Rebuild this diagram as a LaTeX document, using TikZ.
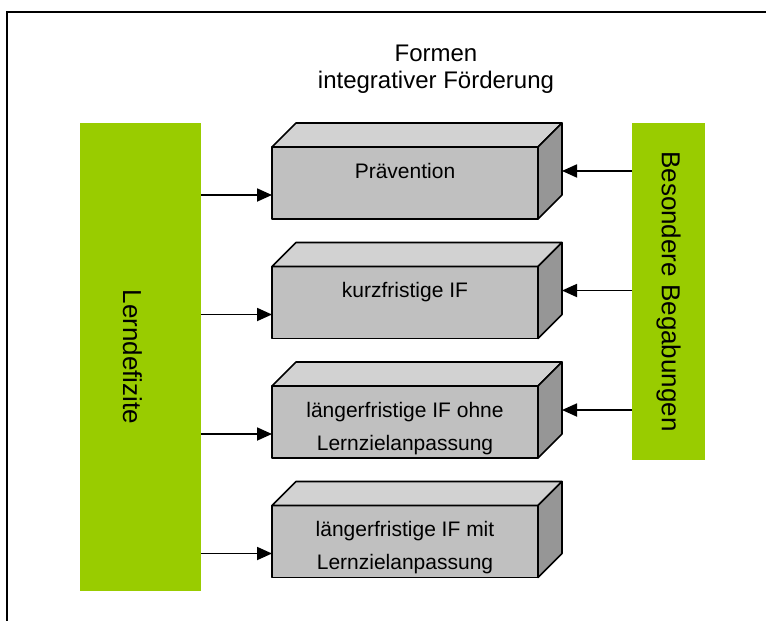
\documentclass[tikz,border=0pt]{standalone}
\usepackage{fontspec}
\setmainfont{Liberation Sans}
\usepackage{graphicx}
\usepackage{xcolor}
\usepackage{tikz}
\usetikzlibrary{calc,arrows.meta}

\definecolor{gruen}{RGB}{153,204,0}
\definecolor{vorne}{RGB}{192,192,192}
\definecolor{oben}{RGB}{210,210,210}
\definecolor{seite}{RGB}{150,150,150}

% text of a box, sitting at the top of the front face
\newcommand{\kastentext}[1]{\parbox[c][56pt][t]{250pt}{\centering\strut #1}}

\begin{document}
\begin{tikzpicture}[x=1pt,y=-1pt,
        kasten/.style={draw, line width=1.6pt, line join=round, fill=vorne, anchor=north west,
            outer sep=0pt, minimum width=266pt, minimum height=72pt, inner xsep=8pt, inner ysep=8pt,
            font=\fontsize{21}{33}\selectfont},
        deckel/.style={draw, line width=1.6pt, line join=round, fill=oben},
        flanke/.style={draw, line width=1.6pt, line join=round, fill=seite},
        balken/.style={fill=gruen, inner sep=0pt, outer sep=0pt, font=\fontsize{26}{30}\selectfont},
        pfeil/.style={line width=1.8pt, -{Triangle[length=15pt,width=13pt]}}]
        \useasboundingbox (0,0) rectangle (766,621);
        \def\tief{24} % depth of the boxes
        \def\ab{12} % arrow offset from the middle of a box

        % frame
        \draw[line width=1.8pt] (766,12) -- (7,12) -- (7,621);

        % title
        \node[anchor=north, align=center, inner sep=0pt, font=\fontsize{24}{27}\selectfont] (titel)
            at (436,45) {Formen\\integrativer Förderung};

        % green bars
        \node[balken, minimum width=121pt, minimum height=468pt] (lern) at (140.5,357)
            {\rotatebox{-90}{\raisebox{-8pt}[\height][\depth]{Lerndefizite}}};
        \node[balken, minimum width=73pt, minimum height=337pt] (bes) at (668.5,291.5)
            {\rotatebox{-90}{Besondere Begabungen}};

        % box 1
        \node[kasten] (prae) at (272,147) {\kastentext{Prävention}};
        \draw[deckel] (prae.north west) -- ++(\tief,-\tief) -- ($(prae.north east)+(\tief,-\tief)$) -- (prae.north east) -- cycle;
        \draw[flanke] (prae.north east) -- ++(\tief,-\tief) -- ($(prae.south east)+(\tief,-\tief)$) -- (prae.south east) -- cycle;

        % box 2
        \node[kasten] (kurz) at (272,266.5) {\kastentext{kurzfristige IF}};
        \draw[deckel] (kurz.north west) -- ++(\tief,-\tief) -- ($(kurz.north east)+(\tief,-\tief)$) -- (kurz.north east) -- cycle;
        \draw[flanke] (kurz.north east) -- ++(\tief,-\tief) -- ($(kurz.south east)+(\tief,-\tief)$) -- (kurz.south east) -- cycle;

        % box 3
        \node[kasten] (ohne) at (272,386) {\kastentext{längerfristige IF ohne\\Lernzielanpassung}};
        \draw[deckel] (ohne.north west) -- ++(\tief,-\tief) -- ($(ohne.north east)+(\tief,-\tief)$) -- (ohne.north east) -- cycle;
        \draw[flanke] (ohne.north east) -- ++(\tief,-\tief) -- ($(ohne.south east)+(\tief,-\tief)$) -- (ohne.south east) -- cycle;

        % box 4
        \node[kasten] (mit) at (272,505.5) {\kastentext{längerfristige IF mit\\Lernzielanpassung}};
        \draw[deckel] (mit.north west) -- ++(\tief,-\tief) -- ($(mit.north east)+(\tief,-\tief)$) -- (mit.north east) -- cycle;
        \draw[flanke] (mit.north east) -- ++(\tief,-\tief) -- ($(mit.south east)+(\tief,-\tief)$) -- (mit.south east) -- cycle;

        % arrows from the left
        \coordinate (l1) at ([yshift=-\ab pt]prae.west);
        \coordinate (l2) at ([yshift=-\ab pt]kurz.west);
        \coordinate (l3) at ([yshift=-\ab pt]ohne.west);
        \coordinate (l4) at ([yshift=-\ab pt]mit.west);
        \draw[pfeil] (lern.east |- l1) -- (l1);
        \draw[pfeil] (lern.east |- l2) -- (l2);
        \draw[pfeil] (lern.east |- l3) -- (l3);
        \draw[pfeil] (lern.east |- l4) -- (l4);

        % arrows from the right, onto the side faces
        \coordinate (r1) at ([xshift=\tief pt,yshift=\ab pt]prae.east);
        \coordinate (r2) at ([xshift=\tief pt,yshift=\ab pt]kurz.east);
        \coordinate (r3) at ([xshift=\tief pt,yshift=\ab pt]ohne.east);
        \draw[pfeil] (bes.west |- r1) -- (r1);
        \draw[pfeil] (bes.west |- r2) -- (r2);
        \draw[pfeil] (bes.west |- r3) -- (r3);

\end{tikzpicture}
\end{document}
